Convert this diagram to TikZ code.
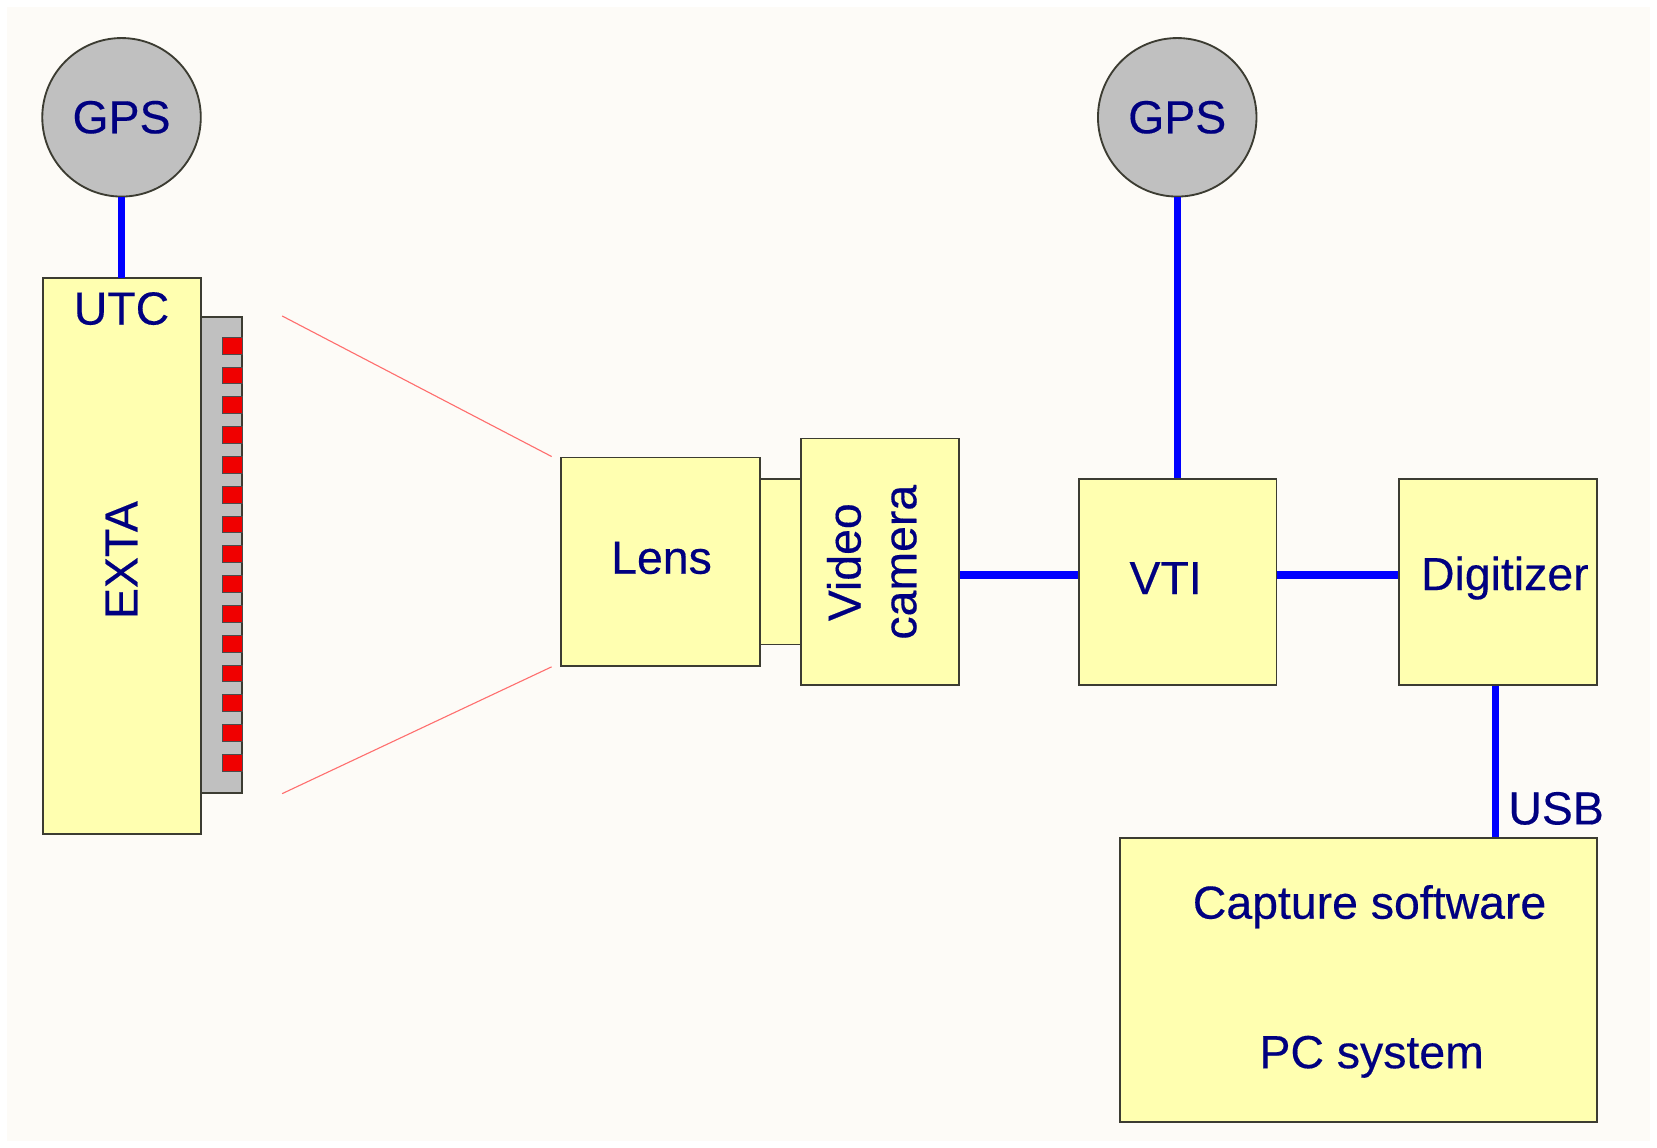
\documentclass[tikz,border=0pt]{standalone}
\usepackage{fontspec}
\setmainfont{Liberation Sans}
\newfontfamily\lblfont{Liberation Sans}[FakeBold=0.35]
\definecolor{bgc}{RGB}{253,251,247}
\definecolor{boxc}{RGB}{255,255,176}
\definecolor{edgec}{RGB}{60,60,50}
\definecolor{gpsc}{RGB}{192,192,192}
\definecolor{txtc}{RGB}{0,0,128}
\definecolor{wirec}{RGB}{0,0,255}
\definecolor{rayc}{RGB}{255,110,110}
\definecolor{ledc}{RGB}{240,0,0}
\tikzset{
  blk/.style={draw=edgec, line width=1pt, fill=boxc},
  gpsnode/.style={circle, draw=edgec, line width=1pt, fill=gpsc, minimum size=150*0.02cm, inner sep=0pt, font=\lblfont\fontsize{25}{29}\selectfont, text=txtc},
  lbl/.style={font=\lblfont\fontsize{25}{29}\selectfont, text=txtc, inner sep=0pt},
  wire/.style={draw=wirec, line width=4pt},
  ray/.style={draw=rayc, line width=0.6pt},
  led/.style={draw=black!70, line width=0.4pt, fill=ledc},
}
\begin{document}
\begin{tikzpicture}[x=0.02cm, y=-0.02cm]
\useasboundingbox (0,0) rectangle (1568,1086);
\fill[white] (0,0) rectangle (1568,1086);
\fill[bgc] (7,7) rectangle (1561,1080);

% GPS circles
\node[gpsnode] (gps1) at (115,111) {GPS};
\node[gpsnode] (gps2) at (1114,111) {GPS};

% EXTA
\draw[blk] (41,263) rectangle (190,789);
\coordinate (extatop) at (115,263);
\node[lbl] (utc) at (115,292) {UTC};
\node[lbl, rotate=90] (exta) at (115,530) {EXTA};
\draw[draw=edgec, line width=1pt, fill=gpsc] (190,300) rectangle (229,750);
\foreach \i in {0,...,14} {
  \draw[led] (210,{319+\i*28.2}) rectangle (229,{335+\i*28.2});
}

% rays
\coordinate (r1) at (267,299);
\coordinate (r2) at (267,751);
\coordinate (l1) at (522,432);
\coordinate (l2) at (522,631);
\draw[ray] (r1) -- (l1);
\draw[ray] (r2) -- (l2);

% Lens, adapter, camera
\node[blk, minimum width=188*0.02cm, minimum height=197*0.02cm, inner sep=0pt, anchor=north west] (lens) at (530,432) {};
\node[lbl] at (626,528) {Lens};
\node[blk, minimum width=39*0.02cm, minimum height=157*0.02cm, inner sep=0pt, anchor=north west] (adapt) at (718,452) {};
\node[blk, minimum width=150*0.02cm, minimum height=233*0.02cm, inner sep=0pt, anchor=north west] (cam) at (757,414) {};
\node[lbl, rotate=90, align=center, font=\lblfont\fontsize{25}{30}\selectfont] (camtxt) at (825,532) {Video\\camera};

% VTI
\node[blk, minimum width=187*0.02cm, minimum height=195*0.02cm, inner sep=0pt, anchor=north west] (vti) at (1020,452) {};
\node[lbl] at (1103,547) {VTI};

% Digitizer
\node[blk, minimum width=187*0.02cm, minimum height=195*0.02cm, inner sep=0pt, anchor=north west] (dig) at (1323,452) {};
\node[lbl] at (1424,547) {Digitizer};

% PC
\node[blk, minimum width=451*0.02cm, minimum height=269*0.02cm, inner sep=0pt, anchor=north west] (pc) at (1059,792) {};
\node[lbl] at (1296,858) {Capture software};
\node[lbl] at (1298,1000) {PC system};

% wires
\draw[wire] (gps1.south) -- (extatop);
\draw[wire] (gps2.south) -- (gps2.south |- vti.north);
\draw[wire] (cam.east |- 0,544) -- (vti.west |- 0,544);
\draw[wire] (vti.east |- 0,544) -- (dig.west |- 0,544);
\draw[wire] (dig.south -| 1415,0) -- (pc.north -| 1415,0);
\node[lbl, anchor=west] (usb) at (1427,765) {USB};
\end{tikzpicture}
\end{document}
